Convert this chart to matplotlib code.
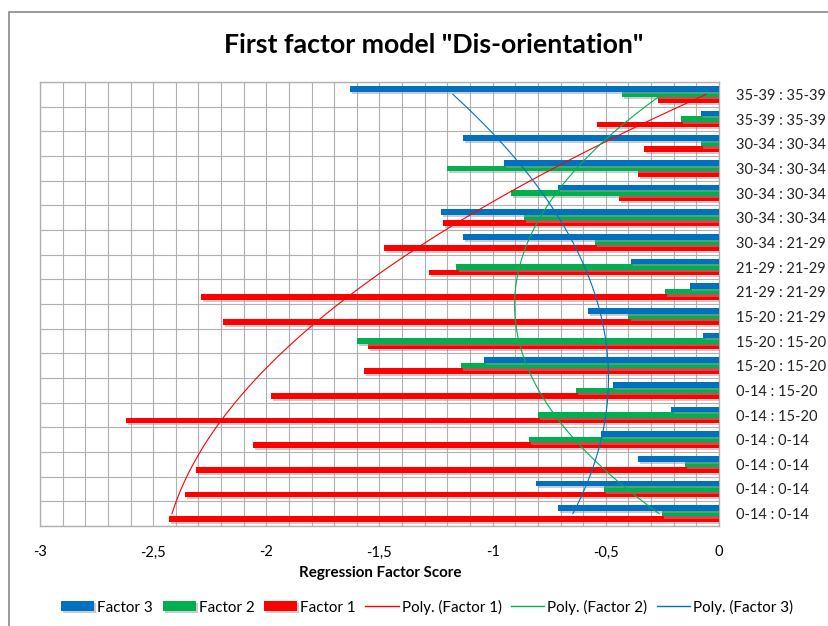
import numpy as np
import matplotlib
matplotlib.use('Agg')
import matplotlib.pyplot as plt
import matplotlib.patheffects as pe
from matplotlib.patches import Rectangle

plt.rcParams['font.family'] = ['Lato', 'DejaVu Sans']

# categories, bottom to top
categories = ['0-14 : 0-14', '0-14 : 0-14', '0-14 : 0-14', '0-14 : 0-14',
              '0-14 : 15-20', '0-14 : 15-20', '15-20 : 15-20', '15-20 : 15-20',
              '15-20 : 21-29', '21-29 : 21-29', '21-29 : 21-29', '30-34 : 21-29',
              '30-34 : 30-34', '30-34 : 30-34', '30-34 : 30-34', '30-34 : 30-34',
              '35-39 : 35-39', '35-39 : 35-39']
factor1 = [-2.43, -2.36, -2.31, -2.06, -2.62, -1.98, -1.57, -1.55, -2.19,
           -2.29, -1.28, -1.48, -1.22, -0.44, -0.36, -0.33, -0.54, -0.27]
factor2 = [-0.25, -0.51, -0.15, -0.84, -0.80, -0.63, -1.14, -1.60, -0.40,
           -0.24, -1.16, -0.55, -0.86, -0.92, -1.20, -0.08, -0.17, -0.43]
factor3 = [-0.71, -0.81, -0.36, -0.52, -0.21, -0.47, -1.04, -0.07, -0.58,
           -0.13, -0.39, -1.13, -1.23, -0.71, -0.95, -1.13, -0.08, -1.63]
xticks = [-3, -2.5, -2, -1.5, -1, -0.5, 0]
xticklabels = ['-3', '-2,5', '-2', '-1,5', '-1', '-0,5', '0']

c_red = '#FF0000'
c_green = '#00B050'
c_blue = '#0070C0'

W, H = 829, 626
fig = plt.figure(figsize=(W / 100, H / 100), dpi=100)
ax = fig.add_axes([40 / W, 1 - 526 / H, 679 / W, 444 / H])

y = np.arange(len(categories))
bh = 0.224
shadow = [pe.SimplePatchShadow(offset=(1.5, -1.5), shadow_rgbFace='#999999', alpha=0.5), pe.Normal()]
b1 = ax.barh(y - bh, factor1, height=bh, color=c_red, label='Factor 1', zorder=3)
b2 = ax.barh(y, factor2, height=bh, color=c_green, label='Factor 2', zorder=3)
b3 = ax.barh(y + bh, factor3, height=bh, color=c_blue, label='Factor 3', zorder=3)
for bars in (b1, b2, b3):
    for p in bars:
        p.set_path_effects(shadow)

# polynomial trendlines (order 2) like excel
xs = np.arange(1, len(categories) + 1)
xf = np.linspace(1, len(categories), 200)
lines = []
for vals, col, name in [(factor1, c_red, 'Poly. (Factor 1)'),
                        (factor2, c_green, 'Poly. (Factor 2)'),
                        (factor3, c_blue, 'Poly. (Factor 3)')]:
    coef = np.polyfit(xs, vals, 2)
    l, = ax.plot(np.polyval(coef, xf), xf - 1, color=col, lw=0.8, label=name, zorder=4)
    lines.append(l)

ax.set_xlim(-3, 0)
ax.set_ylim(-0.5, len(categories) - 0.5)
ax.set_xticks(xticks)
ax.set_xticklabels(xticklabels, fontsize=10.5)
ax.set_xticks(np.arange(-3, 0.001, 0.1), minor=True)
ax.set_yticks(y)
ax.set_yticklabels(categories, fontsize=10.5, color='#222222')
ax.set_yticks(np.arange(-0.5, len(categories), 1), minor=True)
ax.yaxis.tick_right()
ax.tick_params(axis='both', which='both', length=0)
ax.tick_params(axis='y', pad=12)
ax.tick_params(axis='x', pad=14)
ax.grid(which='minor', color='#B0B0B0', lw=0.8, zorder=0)
ax.grid(which='major', axis='x', color='#B0B0B0', lw=0.8, zorder=0)
for s in ax.spines.values():
    s.set_color('#B0B0B0')
    s.set_linewidth(1.0)

fig.text(434 / W, 1 - 45 / H, 'First factor model "Dis-orientation"', ha='center', va='center',
         fontsize=19.3, fontweight='bold')
fig.text(380 / W, 1 - 573 / H, 'Regression Factor Score', ha='center', va='center',
         fontsize=10.9, fontweight='bold')

handles = [b3, b2, b1] + lines
leg = fig.legend(handles, [h.get_label() for h in handles], loc='center', bbox_to_anchor=(427 / W, 1 - 607 / H),
                 ncol=6, frameon=False, fontsize=10.9, handlelength=2.2, handleheight=0.65,
                 columnspacing=0.62, handletextpad=0.2)
for lh in leg.get_lines():
    lh.set_linewidth(1.0)

fig.add_artist(Rectangle((9 / W, -0.5), 2, 1.5 - 12 / H, fill=False, edgecolor='#888888',
                         lw=1.2, transform=fig.transFigure))

fig.savefig('out.png', dpi=100)
